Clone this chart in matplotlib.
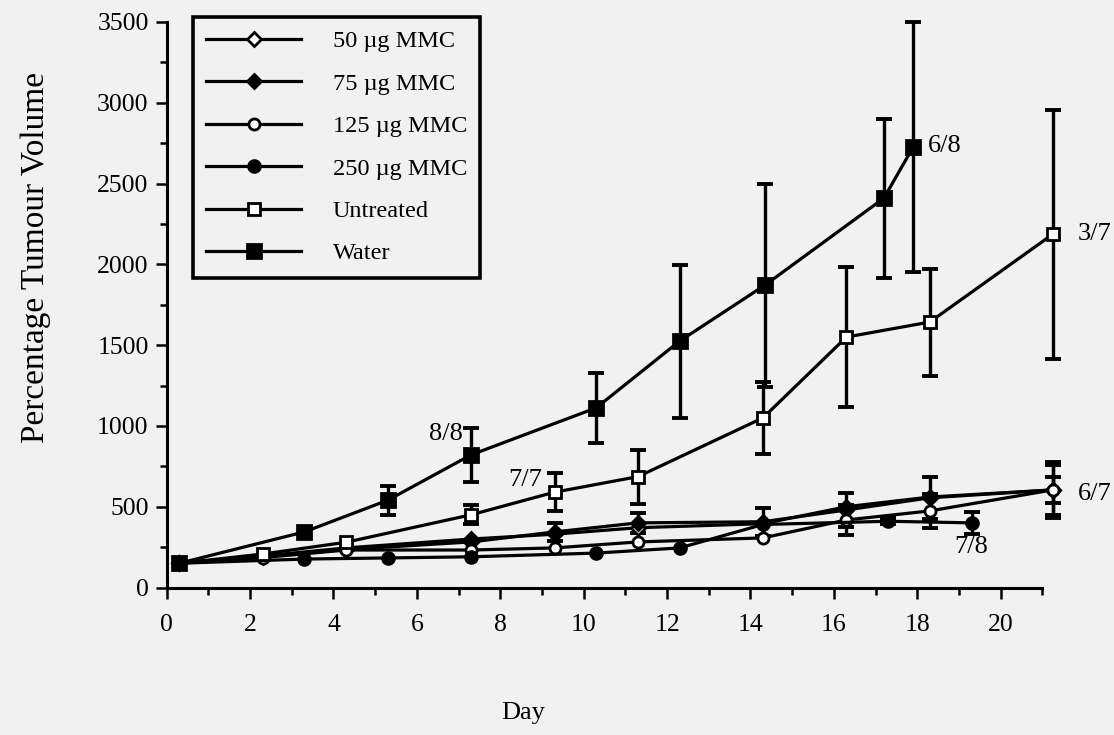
import numpy as np
import matplotlib
matplotlib.use("Agg")
import matplotlib.pyplot as plt
from matplotlib.lines import Line2D
from matplotlib.ticker import MultipleLocator

plt.rcParams['font.family'] = ['Liberation Serif', 'DejaVu Serif']

# Measurement days (two dosing schedules)
days_a = [0.3, 2.3, 4.3, 7.3, 9.3, 11.3, 14.3, 16.3, 18.3, 21.25]
days_b = [0.3, 3.3, 5.3, 7.3, 10.3, 12.3, 14.35, 17.2, 17.9]
days_c = [0.3, 3.3, 5.3, 7.3, 10.3, 12.3, 14.3, 17.3, 19.3]

# Percentage tumour volume (mean) and error
mmc50 = [150, 195, 245, 300, 330, 370, 395, 500, 560, 604]
mmc50_err = [0, 0, 0, 0, 0, 0, 0, 0, 0, 81]
mmc75 = [150, 190, 235, 282, 344, 400, 407, 480, 555, 604]
mmc75_err = [0, 0, 0, 0, 56, 60, 86, 105, 130, 156]
mmc125 = [150, 185, 232, 232, 245, 282, 307, 418, 474, 604]
mmc125_err = [0, 0, 0, 0, 0, 0, 0, 93, 104, 174]
mmc250 = [150, 176, 183, 190, 213, 245, 390, 410, 400]
mmc250_err = [0, 0, 0, 0, 0, 0, 0, 20, 68]
untreated = [150, 207, 280, 450, 590, 686, 1050, 1550, 1643, 2187]
untreated_err = [0, 0, 0, 60, 118, 167, 223, 433, 331, 770]
water = [150, 344, 540, 821, 1112, 1525, 1872, 2410, 2726]
water_err = [0, 0, 90, 167, 217, 473, 628, 492, 773]

labels = ["50 \u00b5g MMC", "75 \u00b5g MMC", "125 \u00b5g MMC", "250 \u00b5g MMC",
          "Untreated", "Water"]

# Survivor counts written next to selected points: (text, day, value)
counts = [("8/8", 6.7, 950), ("7/7", 8.6, 665), ("6/8", 18.65, 2735),
          ("3/7", 22.25, 2187), ("6/7", 22.25, 580), ("7/8", 19.3, 250)]

bg = '#f1f1f1'
fig = plt.figure(figsize=(11.14, 7.35), dpi=100, facecolor=bg)
ax = fig.add_axes([166.7 / 1114, 147.5 / 735, 875.7 / 1114, 565.5 / 735])
ax.set_facecolor(bg)

lw = 2.3
styles = [
    dict(marker='D', mfc='white', ms=7.5),
    dict(marker='D', mfc='black', ms=7.5),
    dict(marker='o', mfc='white', ms=8),
    dict(marker='o', mfc='black', ms=8.5),
    dict(marker='s', mfc='white', ms=9),
    dict(marker='s', mfc='black', ms=10),
]
series = [
    (days_a, mmc50, mmc50_err),
    (days_a, mmc75, mmc75_err),
    (days_a, mmc125, mmc125_err),
    (days_c, mmc250, mmc250_err),
    (days_a, untreated, untreated_err),
    (days_b, water, water_err),
]

for (x, y, e), st in zip(series, styles):
    x = np.asarray(x, float)
    y = np.asarray(y, float)
    e = np.asarray(e, float)
    m = e > 0
    ax.errorbar(x[m], y[m], yerr=e[m], fmt='none', ecolor='black',
                elinewidth=2.4, capsize=5.5, capthick=2.8, zorder=2,
                clip_on=False)
    ax.plot(x, y, color='black', lw=lw, marker=st['marker'], ms=st['ms'],
            mfc=st['mfc'], mec='black', mew=2.0, zorder=3, clip_on=False)

for txt, xd, yv in counts:
    ax.text(xd, yv, txt, fontsize=19, ha='center', va='center', zorder=4)

ax.set_xlim(0, 21)
ax.set_ylim(0, 3500)
ax.xaxis.set_major_locator(MultipleLocator(2))
ax.xaxis.set_minor_locator(MultipleLocator(1))
ax.yaxis.set_major_locator(MultipleLocator(500))
ax.yaxis.set_minor_locator(MultipleLocator(250))

for side in ('top', 'right'):
    ax.spines[side].set_visible(False)
for side in ('left', 'bottom'):
    ax.spines[side].set_linewidth(2.2)

ax.tick_params(axis='both', which='major', length=8, width=1.8,
               labelsize=18.5, direction='out', color='black')
ax.tick_params(axis='both', which='minor', length=5, width=1.8,
               direction='out', color='black')
ax.tick_params(axis='x', which='major', pad=11)
ax.tick_params(axis='y', which='major', pad=5)

ax.set_xlabel("Day", fontsize=19)
ax.xaxis.set_label_coords(0.407, -0.222)
ax.xaxis.label.set_va('center')
ax.set_ylabel("Percentage Tumour Volume", fontsize=24)
ax.yaxis.set_label_coords(-0.150, 0.583)
ax.yaxis.label.set_va('center')

handles = [Line2D([], [], color='black', lw=lw, marker=st['marker'],
                  ms=st['ms'], mfc=st['mfc'], mec='black', mew=2.0)
           for st in styles]
leg = ax.legend(handles, labels, loc='upper left',
                bbox_to_anchor=(0.030, 1.009), borderaxespad=0,
                fontsize=17.5, handlelength=3.9, handletextpad=1.3,
                labelspacing=0.84, borderpad=0.55, fancybox=False,
                framealpha=1, facecolor=bg, edgecolor='black')
leg.get_frame().set_linewidth(2.6)

fig.savefig("out.png", dpi=100, facecolor=bg)
